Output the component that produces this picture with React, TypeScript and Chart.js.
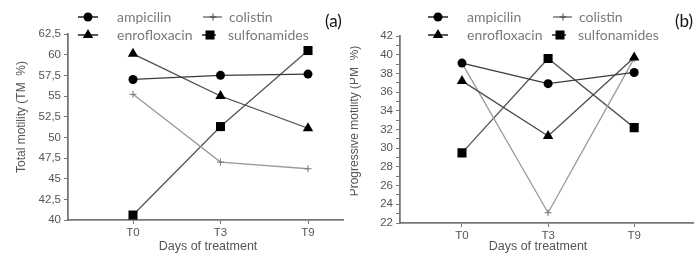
import React, { useEffect, useRef } from "react";
import { Chart, registerables } from "chart.js";

Chart.register(...registerables);

// ---------- data ----------
const categories = ["T0", "T3", "T9"];
const seriesNames = ["ampicilin", "enrofloxacin", "colistin", "sulfonamides"];

const totalAmpicilin = [57.0, 57.5, 57.65];
const totalEnrofloxacin = [60.1, 55.0, 51.1];
const totalColistin = [55.2, 47.0, 46.2];
const totalSulfonamides = [40.6, 51.3, 60.5];

const progAmpicilin = [39.1, 36.9, 38.1];
const progEnrofloxacin = [37.2, 31.3, 39.7];
const progColistin = [39.1, 23.1, 39.6];
const progSulfonamides = [29.5, 39.6, 32.2];

const totalTicks = [40, 42.5, 45, 47.5, 50, 52.5, 55, 57.5, 60, 62.5];
const progTicks = [22, 23, 24, 25, 26, 27, 28, 29, 30, 31, 32, 33, 34, 35, 36, 37, 38, 39, 40, 41, 42];
const progLabelTicks = [22, 24, 26, 28, 30, 32, 34, 36, 38, 40, 42];

const totalTitle = "Total motility (TM  %)";
const progTitle = "Progressive motility (PM  %)";
const xTitle = "Days of treatment";

// ---------- styles ----------
const markerStyles = ["circle", "triangle", "cross", "rect"];
const markerRadius = [4.5, 6, 3.5, 6.4];
const lineColors = ["#3a3a3a", "#4a4a4a", "#9a9a9a", "#555555"];
const markerColors = ["#000", "#000", "#777", "#000"];

const LEGEND_FONT = "14px Lato, 'Open Sans', sans-serif";
const TICK_FONT_FAMILY = "'Liberation Sans', Arial, sans-serif";

function drawMarker(ctx: CanvasRenderingContext2D, style: string, x: number, y: number, r: number, color: string) {
  ctx.save();
  ctx.fillStyle = color;
  ctx.strokeStyle = color;
  ctx.beginPath();
  if (style === "circle") {
    ctx.arc(x, y, r, 0, Math.PI * 2);
    ctx.fill();
  } else if (style === "triangle") {
    ctx.moveTo(x, y - r);
    ctx.lineTo(x + r * 0.866, y + r * 0.5);
    ctx.lineTo(x - r * 0.866, y + r * 0.5);
    ctx.closePath();
    ctx.fill();
  } else if (style === "rect") {
    const s = r * Math.SQRT1_2;
    ctx.rect(x - s, y - s, 2 * s, 2 * s);
    ctx.fill();
  } else if (style === "cross") {
    ctx.lineWidth = 1;
    ctx.moveTo(x - r, y);
    ctx.lineTo(x + r, y);
    ctx.moveTo(x, y - r);
    ctx.lineTo(x, y + r);
    ctx.stroke();
  }
  ctx.restore();
}

type Decor = {
  panel: string;
  yTitle: string;
  yTitleX: number;
  yTitleY: number;
  xTitleX: number;
};

function makeDecorPlugin(d: Decor) {
  // legend item layout (relative to canvas)
  const legendItems = [
    { i: 0, lx1: 78, lx2: 98, mx: 88, tx: 117, y: 17 },
    { i: 1, lx1: 78, lx2: 98, mx: 88, tx: 117, y: 35 },
    { i: 2, lx1: 203, lx2: 222, mx: 213, tx: 229, y: 17 },
    { i: 3, lx1: 202, lx2: 216, mx: 210, tx: 228, y: 35 },
  ];
  return {
    id: "decor",
    afterDraw(chart: any) {
      const ctx: CanvasRenderingContext2D = chart.ctx;
      ctx.save();
      // legend
      for (const it of legendItems) {
        ctx.strokeStyle = it.i === 2 ? "#555" : "#222";
        ctx.lineWidth = it.i === 2 ? 1.2 : 1.5;
        ctx.beginPath();
        ctx.moveTo(it.lx1, it.y);
        ctx.lineTo(it.lx2, it.y);
        ctx.stroke();
        drawMarker(ctx, markerStyles[it.i], it.mx, it.y, markerRadius[it.i], it.i === 2 ? "#444" : "#000");
        ctx.fillStyle = "#7a7a7a";
        ctx.font = LEGEND_FONT;
        ctx.textAlign = "left";
        ctx.textBaseline = "middle";
        ctx.fillText(seriesNames[it.i], it.tx, it.y);
      }
      // panel label
      ctx.fillStyle = "#111";
      ctx.font = "17px Lato, 'Open Sans', sans-serif";
      ctx.textAlign = "left";
      ctx.textBaseline = "middle";
      ctx.fillText(d.panel, 325, 22);
      // y title
      ctx.save();
      ctx.translate(d.yTitleX, d.yTitleY);
      ctx.rotate(-Math.PI / 2);
      ctx.fillStyle = "#555";
      ctx.font = `12px ${TICK_FONT_FAMILY}`;
      ctx.textAlign = "center";
      ctx.textBaseline = "middle";
      ctx.fillText(d.yTitle, 0, 0);
      ctx.restore();
      // x title
      ctx.fillStyle = "#555";
      ctx.font = `12.5px ${TICK_FONT_FAMILY}`;
      ctx.textAlign = "center";
      ctx.textBaseline = "middle";
      ctx.fillText(xTitle, d.xTitleX, 247);
      ctx.restore();
    },
  };
}

type PanelProps = {
  series: number[][];
  yTicks: number[];
  yLabelTicks: number[];
  yMin: number;
  yMax: number;
  xMin: number;
  xMax: number;
  yAxisWidth: number;
  xAxisHeight: number;
  padTop: number;
  padRight: number;
  decor: Decor;
};

function Panel(p: PanelProps) {
  const ref = useRef<HTMLCanvasElement | null>(null);
  useEffect(() => {
    if (!ref.current) return;
    const datasets = p.series.map((vals, i) => ({
      label: seriesNames[i],
      data: categories.map((_, k) => ({ x: k, y: vals[k] })),
      borderColor: lineColors[i],
      borderWidth: 1.3,
      pointStyle: markerStyles[i] as any,
      pointRadius: markerRadius[i],
      pointBackgroundColor: markerColors[i],
      pointBorderColor: markerColors[i],
      pointBorderWidth: i === 2 ? 1 : 0,
      tension: 0,
      fill: false,
    }));
    const gridCommon = {
      display: true,
      drawOnChartArea: false,
      drawTicks: true,
      tickLength: 4,
      color: "#777",
      lineWidth: 1,
    };
    const chart = new Chart(ref.current, {
      type: "line",
      data: { datasets },
      plugins: [makeDecorPlugin(p.decor)],
      options: {
        animation: false,
        responsive: false,
        devicePixelRatio: 1,
        layout: { padding: { top: p.padTop, right: p.padRight, left: 0, bottom: 0 } },
        plugins: { legend: { display: false }, tooltip: { enabled: false } },
        scales: {
          x: {
            type: "linear",
            min: p.xMin,
            max: p.xMax,
            afterBuildTicks: (s: any) => {
              s.ticks = categories.map((_, k) => ({ value: k }));
            },
            afterFit: (s: any) => {
              s.height = p.xAxisHeight;
            },
            ticks: {
              callback: (v: any) => categories[v as number] ?? "",
              color: "#555",
              font: { family: TICK_FONT_FAMILY, size: 11.5 },
              padding: 2,
              maxRotation: 0,
            },
            grid: gridCommon,
            border: { display: true, color: "#777", width: 1.8 },
          },
          y: {
            type: "linear",
            min: p.yMin,
            max: p.yMax,
            afterBuildTicks: (s: any) => {
              s.ticks = p.yTicks.map((v) => ({ value: v }));
            },
            afterFit: (s: any) => {
              s.width = p.yAxisWidth;
            },
            ticks: {
              callback: (v: any) =>
                p.yLabelTicks.includes(v as number) ? String(v).replace(".", ",") : "",
              color: "#555",
              font: { family: TICK_FONT_FAMILY, size: 11.5 },
              padding: 3,
              autoSkip: false,
            },
            grid: gridCommon,
            border: { display: true, color: "#777", width: 1.8 },
          },
        },
      } as any,
    });
    return () => chart.destroy();
  }, []);
  return <canvas ref={ref} width={350} height={255} style={{ display: "block", width: 350, height: 255 }} />;
}

export default function App() {
  return (
    <div
      style={{
        position: "absolute",
        left: 0,
        top: 0,
        width: 700,
        height: 255,
        display: "flex",
        background: "#fff",
      }}
    >
      <Panel
        series={[totalAmpicilin, totalEnrofloxacin, totalColistin, totalSulfonamides]}
        yTicks={totalTicks}
        yLabelTicks={totalTicks}
        yMin={40}
        yMax={62.5}
        xMin={-0.743}
        xMax={2.4}
        yAxisWidth={68}
        xAxisHeight={35}
        padTop={34}
        padRight={7}
        decor={{ panel: "(a)", yTitle: totalTitle, yTitleX: 22, yTitleY: 117, xTitleX: 208 }}
      />
      <Panel
        series={[progAmpicilin, progEnrofloxacin, progColistin, progSulfonamides]}
        yTicks={progTicks}
        yLabelTicks={progLabelTicks}
        yMin={22}
        yMax={42}
        xMin={-0.72}
        xMax={2.69}
        yAxisWidth={50}
        xAxisHeight={32}
        padTop={36}
        padRight={0}
        decor={{ panel: "(b)", yTitle: progTitle, yTitleX: 5, yTitleY: 121, xTitleX: 188 }}
      />
    </div>
  );
}
